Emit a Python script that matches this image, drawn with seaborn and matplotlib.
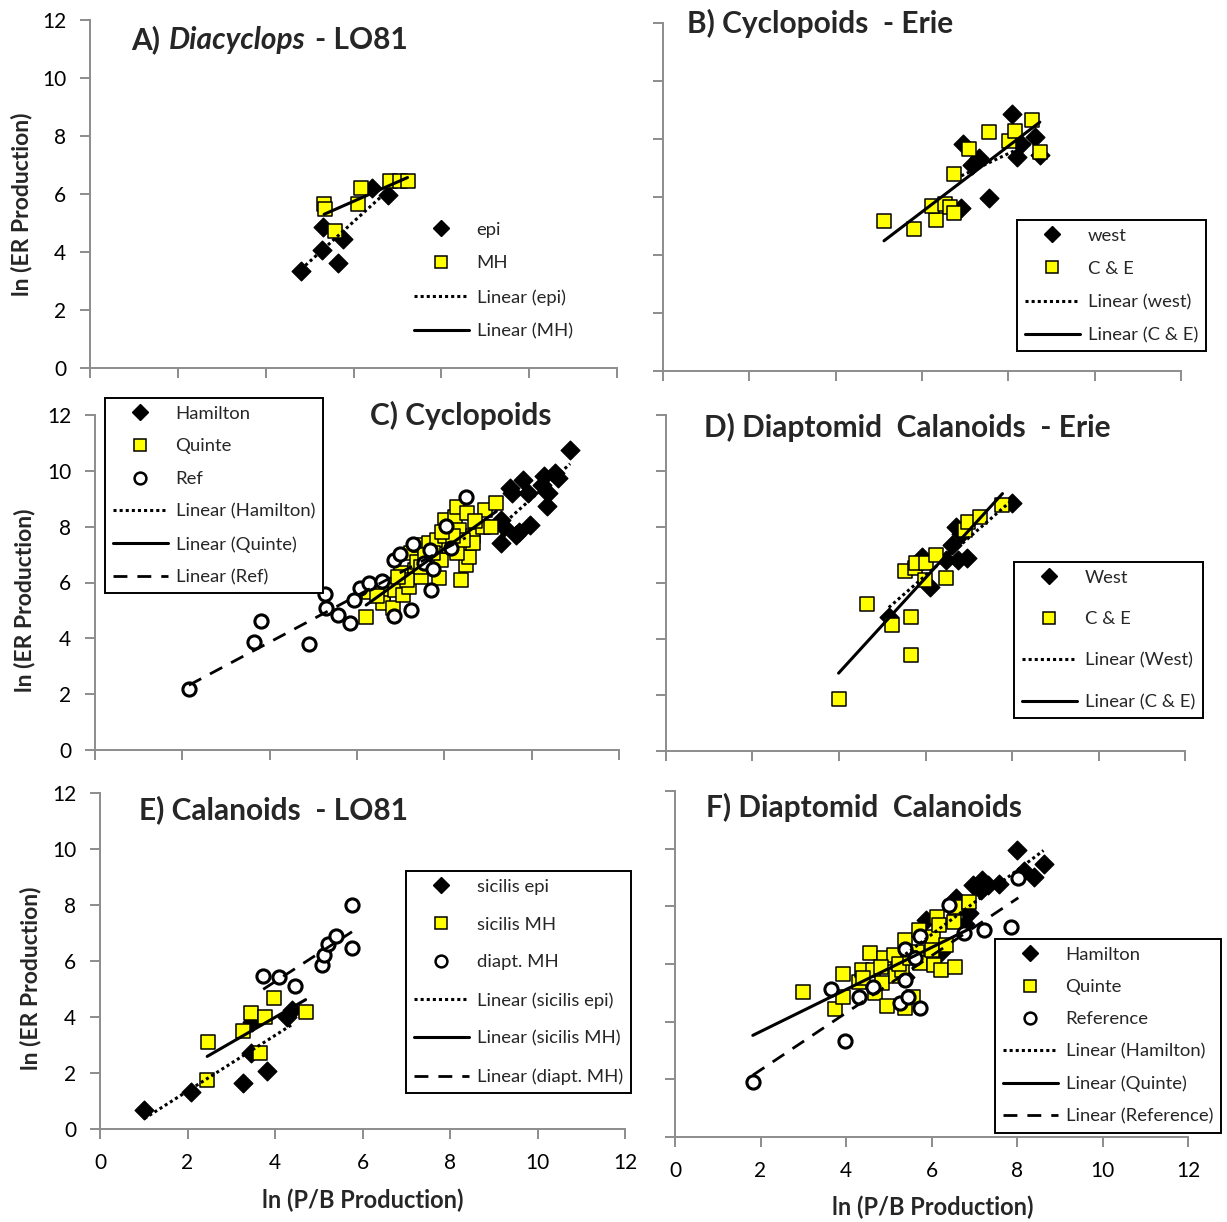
import numpy as np
import pandas as pd
import matplotlib
matplotlib.use("Agg")
import matplotlib.pyplot as plt
from matplotlib.lines import Line2D
import seaborn as sns

sns.set_theme(style="ticks")
plt.rcParams['font.family'] = ['Lato', 'DejaVu Sans']

# ---------------- data: ln(P/B production) vs ln(ER production) ----------------
# A) Diacyclops - LO81
a_epi_x = [4.80, 5.28, 5.30, 5.65, 5.75, 6.43, 6.78]
a_epi_y = [3.36, 4.07, 4.87, 3.63, 4.44, 6.20, 5.97]
a_mh_x = [5.33, 5.36, 5.58, 6.10, 6.17, 6.82, 7.05, 7.23]
a_mh_y = [5.66, 5.47, 4.73, 5.66, 6.20, 6.45, 6.45, 6.45]

# B) Cyclopoids - Erie
b_west_x = [8.09, 6.95, 7.33, 7.15, 8.62, 8.30, 8.20, 8.74, 7.55, 6.91]
b_west_y = [8.85, 7.83, 7.36, 7.10, 8.06, 7.83, 7.37, 7.45, 5.98, 5.61]
b_ce_x = [5.12, 5.81, 6.33, 6.24, 6.54, 6.64, 6.74, 6.74, 7.09, 7.55, 8.02, 8.16, 8.54, 8.73]
b_ce_y = [5.17, 4.89, 5.21, 5.70, 5.76, 5.67, 5.44, 6.79, 7.66, 8.25, 7.93, 8.28, 8.66, 7.56]

# C) Cyclopoids
c_ham_x = [10.88, 10.54, 10.60, 10.29, 10.24, 10.38, 10.36, 9.81, 9.92, 9.56, 9.51,
           9.30, 9.36, 9.30, 9.65, 9.72, 9.97]
c_ham_y = [10.75, 9.92, 9.74, 9.80, 9.50, 9.20, 8.75, 9.68, 9.20, 9.20, 9.38,
           8.24, 8.00, 7.41, 7.71, 7.82, 8.06]
c_quinte_x = [6.21, 6.28, 6.60, 6.60, 6.83, 6.88, 7.06, 7.01, 7.19, 7.33, 7.47, 7.24,
              7.38, 7.42, 7.65, 7.83, 7.88, 7.92, 8.01, 8.24, 8.29, 8.33, 8.38, 8.49,
              8.51, 8.56, 8.65, 8.65, 8.88, 8.92, 9.06, 9.19, 8.10, 8.01, 7.74, 8.29,
              7.15, 7.47, 8.42, 8.19, 6.45, 6.95, 7.55, 7.95, 8.70]
c_quinte_y = [4.76, 5.67, 5.62, 5.28, 5.08, 5.73, 5.56, 6.33, 5.85, 6.45, 6.21, 7.05,
              6.75, 7.35, 7.41, 7.53, 6.15, 6.81, 8.24, 8.36, 8.72, 7.89, 6.09, 6.63,
              8.48, 6.93, 7.65, 7.41, 8.00, 8.60, 8.00, 8.84, 7.29, 7.65, 7.05, 7.05,
              6.09, 6.57, 7.53, 7.65, 5.50, 6.20, 7.00, 7.80, 8.20]
c_ref_x = [2.15, 3.63, 3.81, 4.90, 5.27, 5.30, 5.56, 5.83, 5.92, 6.06, 6.27, 6.58,
           6.85, 6.99, 6.85, 7.24, 7.29, 7.54, 7.69, 7.67, 7.74, 8.03, 8.15, 8.49]
c_ref_y = [2.17, 3.86, 4.62, 3.80, 5.58, 5.10, 4.84, 4.54, 5.38, 5.80, 6.00, 6.07,
           6.81, 7.03, 4.80, 5.02, 7.37, 6.71, 5.73, 7.17, 6.48, 8.03, 7.23, 9.06]

# D) Diaptomid Calanoids - Erie
d_west_x = [5.15, 5.93, 6.10, 6.48, 6.74, 6.96, 6.62, 6.71, 6.83, 7.99]
d_west_y = [4.78, 6.94, 5.87, 6.82, 6.82, 6.88, 7.36, 8.01, 7.75, 8.85]
d_ce_x = [3.99, 4.65, 5.23, 5.66, 5.67, 5.52, 5.75, 5.79, 6.02, 5.98, 6.25, 6.48,
          6.92, 6.98, 7.26, 7.78]
d_ce_y = [1.86, 5.24, 4.50, 4.80, 3.43, 6.43, 6.52, 6.73, 6.73, 6.11, 7.00, 6.19,
          7.89, 8.19, 8.37, 8.79]

# E) Calanoids - LO81
e_epi_x = [1.01, 2.07, 3.27, 3.45, 3.81, 3.48, 4.28, 4.39]
e_epi_y = [0.68, 1.33, 1.63, 2.73, 2.07, 3.83, 4.01, 4.25]
e_mh_x = [2.45, 2.47, 3.27, 3.45, 3.76, 3.65, 3.98, 4.70]
e_mh_y = [1.75, 3.12, 3.51, 4.13, 4.01, 2.70, 4.67, 4.17]
e_diapt_x = [3.73, 4.09, 4.45, 5.08, 5.12, 5.22, 5.40, 5.76, 5.76]
e_diapt_y = [5.48, 5.42, 5.11, 5.86, 6.21, 6.61, 6.90, 8.00, 6.48]

# F) Diaptomid Calanoids
f_ham_x = [8.01, 8.62, 8.40, 8.16, 7.59, 7.32, 7.19, 7.15, 6.97, 6.57, 6.88, 6.79,
           5.87, 6.22, 5.39]
f_ham_y = [9.95, 9.46, 9.03, 9.23, 8.78, 8.74, 8.91, 8.57, 8.74, 8.28, 7.76, 7.39,
           7.53, 6.43, 5.56]
f_quinte_x = [2.99, 3.74, 3.93, 3.93, 4.30, 4.37, 4.57, 4.64, 4.68, 4.88, 4.85, 4.97,
              5.12, 5.16, 5.30, 5.39, 5.39, 5.56, 5.65, 5.71, 5.74, 6.03, 6.01, 6.05,
              6.13, 6.18, 6.22, 6.33, 6.56, 6.53, 6.56, 6.88, 4.40, 4.81, 5.25, 5.50]
f_quinte_y = [5.04, 4.43, 5.65, 4.87, 5.39, 5.79, 6.39, 5.79, 4.98, 6.20, 5.33, 4.54,
              6.31, 5.60, 5.79, 6.83, 4.46, 4.87, 6.43, 7.18, 6.02, 6.95, 6.49, 5.97,
              7.64, 7.35, 5.79, 6.66, 5.91, 7.47, 7.99, 8.16, 5.50, 5.90, 6.00, 6.20]
f_ref_x = [1.82, 3.98, 3.64, 4.30, 4.64, 5.27, 5.39, 5.45, 5.74, 5.39, 5.61, 5.74,
           6.40, 6.75, 7.22, 7.87, 8.03]
f_ref_y = [1.92, 3.34, 5.13, 4.87, 5.21, 4.64, 5.45, 4.87, 4.49, 6.51, 6.20, 6.97,
           8.05, 7.09, 7.18, 7.27, 8.97]

axis_ticks = [0, 2, 4, 6, 8, 10, 12]
y_label = "ln (ER Production)"
x_label = "ln (P/B Production)"

# ---------------- styles ----------------
W, H = 1227, 1222
fig = plt.figure(figsize=(W / 100, H / 100), dpi=100)

GREY = "#8c8c8c"
YELLOW = "#FFFF00"
MARK = {
    "diamond": dict(marker="D", s=90, color="black", edgecolor="black", linewidth=1),
    "square": dict(marker="s", s=110, color=YELLOW, edgecolor="black", linewidth=1.1),
    "circle": dict(marker="o", s=90, color="white", edgecolor="black", linewidth=2.2),
}
LEG_MARK = {
    "diamond": dict(marker="D", markersize=8, markerfacecolor="black", markeredgecolor="black"),
    "square": dict(marker="s", markersize=9, markerfacecolor=YELLOW, markeredgecolor="black",
                   markeredgewidth=1.1),
    "circle": dict(marker="o", markersize=8.5, markerfacecolor="white", markeredgecolor="black",
                   markeredgewidth=1.8),
}
LINE = {
    "dot": dict(ls=(0, (1, 1)), lw=2.2),
    "solid": dict(ls="-", lw=2.2),
    "dash": dict(ls=(0, (5, 3.6)), lw=2.0),
}


def make_axes(x0, x1, y0, y1, xlabels, ylabels):
    ax = fig.add_axes([x0 / W, 1 - y1 / H, (x1 - x0) / W, (y1 - y0) / H])
    ax.set_xlim(0, 12)
    ax.set_ylim(0, 12)
    ax.set_xticks(axis_ticks)
    ax.set_yticks(axis_ticks)
    if not xlabels:
        ax.set_xticklabels([])
    if not ylabels:
        ax.set_yticklabels([])
    sns.despine(ax=ax)
    for sp in ("left", "bottom"):
        ax.spines[sp].set_color(GREY)
        ax.spines[sp].set_linewidth(1.4)
    ax.tick_params(direction="out", length=7, width=1.4, color=GREY,
                   labelsize=15, pad=10, labelcolor="black")
    ax.set_xlabel("")
    ax.set_ylabel("")
    return ax


def draw_series(ax, series):
    # points first, then the least-squares trend lines on top
    for xs, ys, kind, line, start in series:
        df = pd.DataFrame({"x": xs, "y": ys})
        sns.scatterplot(data=df, x="x", y="y", ax=ax, zorder=3, legend=False, **MARK[kind])
    for xs, ys, kind, line, start in series:
        slope, icpt = np.polyfit(xs, ys, 1)
        x0 = min(xs) if start is None else start
        fx = np.array([x0, max(xs)])
        sns.lineplot(x=fx, y=slope * fx + icpt, ax=ax, color="black", zorder=4,
                     legend=False, **LINE[line])
    ax.set_xlabel("")
    ax.set_ylabel("")


def add_legend(left, top, names, kinds, lines, spacing, frame=True):
    handles = []
    for k in kinds:
        handles.append(Line2D([], [], ls="none", **LEG_MARK[k]))
    for ln in lines:
        handles.append(Line2D([], [], color="black", **LINE[ln]))
    leg = fig.legend(handles, names, loc="upper left",
                     bbox_to_anchor=(left / W, 1 - top / H), bbox_transform=fig.transFigure,
                     frameon=frame, fancybox=False, framealpha=1, edgecolor="black",
                     fontsize=13.3, handlelength=3.0, handletextpad=0.4,
                     labelspacing=spacing, borderpad=0.42, borderaxespad=0)
    if frame:
        leg.get_frame().set_linewidth(1.4)
    return leg


renderer = fig.canvas.get_renderer()


def panel_title(x_px, y_px, parts, gap=8):
    x = x_px
    for txt, style in parts:
        t = fig.text(x / W, 1 - y_px / H, txt, fontsize=21.5, fontweight="bold",
                     fontstyle=style, ha="left", va="center")
        bb = t.get_window_extent(renderer)
        x = bb.x1 + gap


# ---------------- panels ----------------
axA = make_axes(90, 617, 20, 368, False, True)
draw_series(axA, [(a_epi_x, a_epi_y, "diamond", "dot", None),
                  (a_mh_x, a_mh_y, "square", "solid", None)])
panel_title(131, 40, [("A)", "normal"), ("Diacyclops", "italic"), ("- LO81", "normal")], gap=9)
add_legend(406, 214, ["epi", "MH", "Linear (epi)", "Linear (MH)"],
           ["diamond", "square"], ["dot", "solid"], 0.96, frame=False)

axB = make_axes(663, 1181, 23, 371, False, False)
draw_series(axB, [(b_west_x, b_west_y, "diamond", "dot", None),
                  (b_ce_x, b_ce_y, "square", "solid", None)])
panel_title(687, 23, [("B) Cyclopoids  - Erie", "normal")])
add_legend(1017, 220, ["west", "C & E", "Linear (west)", "Linear (C & E)"],
           ["diamond", "square"], ["dot", "solid"], 0.93)

axC = make_axes(95, 619, 415, 750, False, True)
draw_series(axC, [(c_ham_x, c_ham_y, "diamond", "dot", None),
                  (c_quinte_x, c_quinte_y, "square", "solid", None),
                  (c_ref_x, c_ref_y, "circle", "dash", None)])
panel_title(370, 415, [("C) Cyclopoids", "normal")])
add_legend(105, 398, ["Hamilton", "Quinte", "Ref", "Linear (Hamilton)", "Linear (Quinte)",
                      "Linear (Ref)"],
           ["diamond", "square", "circle"], ["dot", "solid", "dash"], 0.9)

axD = make_axes(666, 1185, 415, 751, False, False)
draw_series(axD, [(d_west_x, d_west_y, "diamond", "dot", None),
                  (d_ce_x, d_ce_y, "square", "solid", None)])
panel_title(704, 427, [("D) Diaptomid  Calanoids  - Erie", "normal")])
add_legend(1014, 562, ["West", "C & E", "Linear (West)", "Linear (C & E)"],
           ["diamond", "square"], ["dot", "solid"], 1.38)

axE = make_axes(100, 625, 793, 1129, True, True)
draw_series(axE, [(e_epi_x, e_epi_y, "diamond", "dot", None),
                  (e_mh_x, e_mh_y, "square", "solid", None),
                  (e_diapt_x, e_diapt_y, "circle", "dash", None)])
panel_title(139, 810, [("E) Calanoids  - LO81", "normal")])
add_legend(406, 871, ["sicilis epi", "sicilis MH", "diapt. MH", "Linear (sicilis epi)",
                      "Linear (sicilis MH)", "Linear (diapt. MH)"],
           ["diamond", "square", "circle"], ["dot", "solid", "dash"], 1.18)

axF = make_axes(675, 1188, 791, 1137, True, False)
draw_series(axF, [(f_ham_x, f_ham_y, "diamond", "dot", None),
                  (f_quinte_x, f_quinte_y, "square", "solid", min(f_ref_x)),
                  (f_ref_x, f_ref_y, "circle", "dash", None)])
panel_title(706, 807, [("F) Diaptomid  Calanoids", "normal")])
add_legend(995, 939, ["Hamilton", "Quinte", "Reference", "Linear (Hamilton)",
                      "Linear (Quinte)", "Linear (Reference)"],
           ["diamond", "square", "circle"], ["dot", "solid", "dash"], 0.88)

# ---------------- axis titles ----------------
for cx, cy in [(22, 204), (25, 600), (31, 978)]:
    fig.text(cx / W, 1 - cy / H, y_label, rotation=90, fontsize=16.5, fontweight="bold",
             ha="center", va="center")
for cx, cy in [(363, 1200), (933, 1207)]:
    fig.text(cx / W, 1 - cy / H, x_label, fontsize=17, fontweight="bold",
             ha="center", va="center")

fig.savefig("out.png", dpi=100)
